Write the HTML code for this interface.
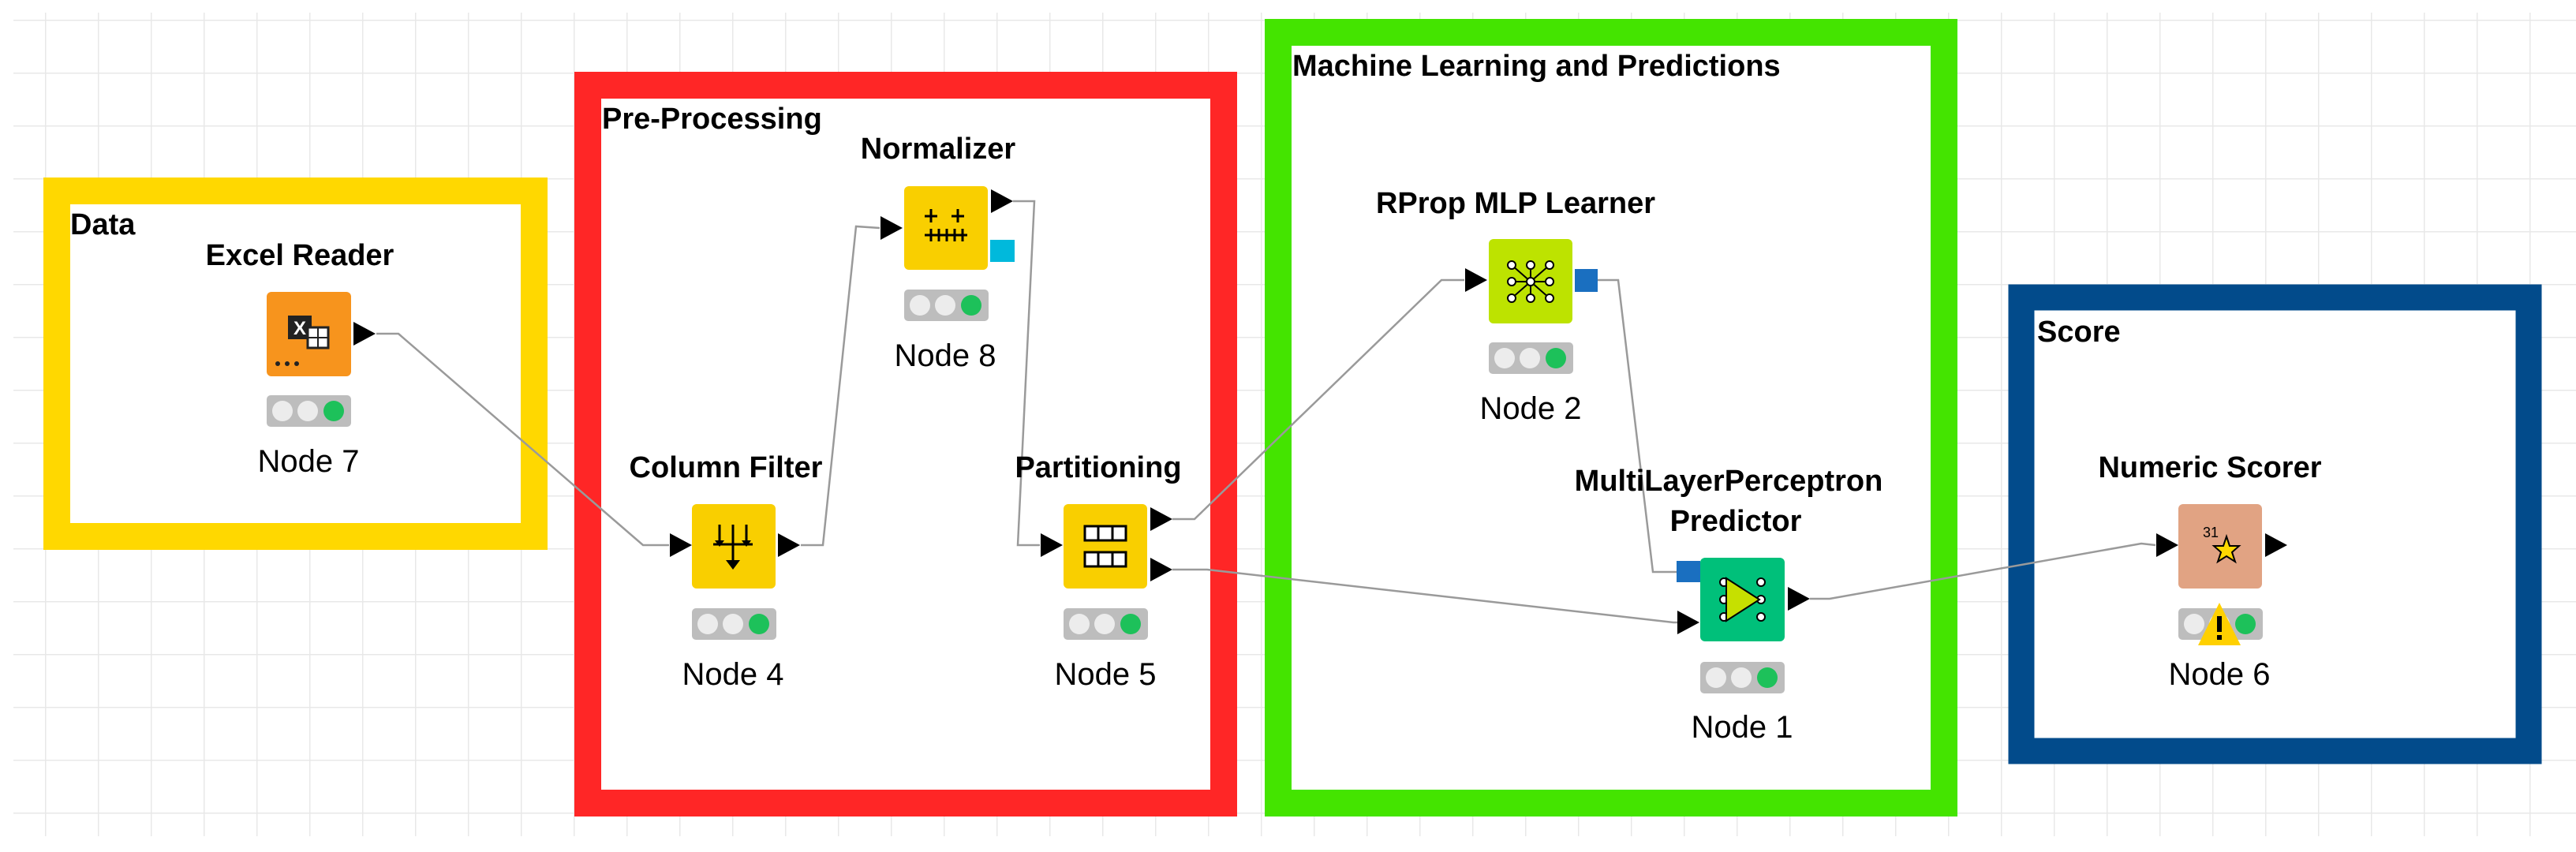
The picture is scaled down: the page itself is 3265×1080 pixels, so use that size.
<!DOCTYPE html>
<html><head><meta charset="utf-8"><style>
html,body{margin:0;padding:0;background:#fff;}
svg{display:block;}
text{font-family:"Liberation Sans",Arial,sans-serif;}
.t{font-weight:bold;font-size:38px;fill:#000;}
.n{font-size:40px;fill:#000;}
.c{fill:none;stroke:#9a9a9a;stroke-width:2.5;}
</style></head><body>
<svg width="3265" height="1080" viewBox="0 0 3265 1080" xmlns="http://www.w3.org/2000/svg">
<defs>
<pattern id="g" x="57" y="25" width="67" height="67" patternUnits="userSpaceOnUse">
<path d="M0 0V67M0 0H67" stroke="#e8e8e8" stroke-width="3" fill="none"/>
</pattern>
<g id="tl">
<rect x="0" y="0" width="107" height="40" rx="5" fill="#bdbdbd"/>
<circle cx="20" cy="20" r="13" fill="#ececec"/>
<circle cx="52" cy="20" r="13" fill="#ececec"/>
<circle cx="85" cy="20" r="13" fill="#1dc15a"/>
</g>
<path id="tri" d="M0 -15 L28 0 L0 15 Z" fill="#000"/>
</defs>
<rect x="17" y="16" width="3248" height="1044" fill="url(#g)"/>

<!-- groups -->
<rect x="72" y="242" width="605" height="438" fill="#fff" stroke="#ffd800" stroke-width="34"/>
<rect x="745" y="108" width="806" height="910" fill="#fff" stroke="#ff2626" stroke-width="34"/>
<rect x="1620" y="41" width="844" height="977" fill="#fff" stroke="#44e400" stroke-width="34"/>
<rect x="2562" y="377" width="643" height="575" fill="#fff" stroke="#024b8b" stroke-width="33"/>

<text class="t" x="89" y="297">Data</text>
<text class="t" x="763" y="163">Pre-Processing</text>
<text class="t" x="1638" y="96">Machine Learning and Predictions</text>
<text class="t" x="2582" y="433">Score</text>

<!-- connections -->
<polyline class="c" points="477,423 505,423 815,691 848,691"/>
<polyline class="c" points="1015,691 1043,691 1085,287 1115,289"/>
<polyline class="c" points="1284,255 1311,255 1290,691 1318,691"/>
<polyline class="c" points="1486,658 1514,658 1827,355 1856,355"/>
<polyline class="c" points="1486,722 1530,722 2121,789 2128,789"/>
<polyline class="c" points="2025,355 2051,355 2095,725 2125,725"/>
<polyline class="c" points="2294,759 2319,759 2714,689 2732,691"/>

<!-- Excel Reader -->
<text class="t" x="380" y="336" text-anchor="middle">Excel Reader</text>
<rect x="338" y="370" width="107" height="107" rx="6" fill="#f7941d"/>
<rect x="365" y="400" width="30" height="30" fill="#222"/>
<text x="380" y="424" text-anchor="middle" fill="#fff" font-size="24" font-weight="bold">X</text>
<rect x="390" y="415" width="26" height="26" fill="#fff" stroke="#222" stroke-width="3"/>
<path d="M390 428H416M403 415V441" stroke="#222" stroke-width="2"/>
<circle cx="352" cy="461" r="3" fill="#222"/><circle cx="364" cy="461" r="3" fill="#222"/><circle cx="376" cy="461" r="3" fill="#222"/>
<use href="#tri" x="448" y="423"/>
<use href="#tl" x="338" y="501"/>
<text class="n" x="391" y="598" text-anchor="middle">Node 7</text>

<!-- Column Filter -->
<text class="t" x="920" y="605" text-anchor="middle">Column Filter</text>
<rect x="877" y="639" width="106" height="107" rx="6" fill="#f9cf00"/>
<path d="M912 665V690M946 665V690M929 665V715M904 690H954" stroke="#000" stroke-width="3"/>
<path d="M906 685L912 693L918 685ZM940 685L946 693L952 685ZM920 710L929 722L938 710Z" fill="#000"/>
<use href="#tri" x="849" y="691"/>
<use href="#tri" x="986" y="691"/>
<use href="#tl" x="877" y="771"/>
<text class="n" x="929" y="868" text-anchor="middle">Node 4</text>

<!-- Normalizer -->
<text class="t" x="1189" y="201" text-anchor="middle">Normalizer</text>
<rect x="1146" y="236" width="106" height="106" rx="6" fill="#f9cf00"/>
<path d="M1180 265V282M1172 274H1188M1214 265V282M1206 274H1222M1172 298H1226M1180 290V306M1190 290V306M1200 290V306M1210 290V306M1220 290V306" stroke="#000" stroke-width="3"/>
<use href="#tri" x="1116" y="289"/>
<use href="#tri" x="1256" y="255"/>
<rect x="1255" y="304" width="31" height="28" fill="#00b9dc"/>
<use href="#tl" x="1146" y="367"/>
<text class="n" x="1198" y="464" text-anchor="middle">Node 8</text>

<!-- Partitioning -->
<text class="t" x="1392" y="605" text-anchor="middle">Partitioning</text>
<rect x="1348" y="639" width="106" height="107" rx="6" fill="#f9cf00"/>
<rect x="1375" y="667" width="52" height="18" fill="#fff" stroke="#000" stroke-width="3"/>
<path d="M1392 667V685M1410 667V685" stroke="#000" stroke-width="3"/>
<rect x="1375" y="700" width="52" height="18" fill="#fff" stroke="#000" stroke-width="3"/>
<path d="M1392 700V718M1410 700V718" stroke="#000" stroke-width="3"/>
<use href="#tri" x="1319" y="691"/>
<use href="#tri" x="1458" y="658"/>
<use href="#tri" x="1458" y="722"/>
<use href="#tl" x="1348" y="771"/>
<text class="n" x="1401" y="868" text-anchor="middle">Node 5</text>

<!-- RProp MLP Learner -->
<text class="t" x="1921" y="270" text-anchor="middle">RProp MLP Learner</text>
<rect x="1887" y="303" width="106" height="107" rx="6" fill="#bde300"/>
<g fill="#fff" stroke="#000" stroke-width="2">
<path d="M1916 336L1964 378M1964 336L1916 378M1916 357H1964M1940 336V378" fill="none"/>
<circle cx="1916" cy="336" r="5"/><circle cx="1940" cy="336" r="5"/><circle cx="1964" cy="336" r="5"/>
<circle cx="1916" cy="357" r="5"/><circle cx="1940" cy="357" r="5"/><circle cx="1964" cy="357" r="5"/>
<circle cx="1916" cy="378" r="5"/><circle cx="1940" cy="378" r="5"/><circle cx="1964" cy="378" r="5"/>
</g>
<use href="#tri" x="1857" y="355"/>
<rect x="1996" y="341" width="29" height="29" fill="#1a6fc0"/>
<use href="#tl" x="1887" y="434"/>
<text class="n" x="1940" y="531" text-anchor="middle">Node 2</text>

<!-- MLP Predictor -->
<text class="t" x="2191" y="622" text-anchor="middle">MultiLayerPerceptron</text>
<text class="t" x="2200" y="673" text-anchor="middle">Predictor</text>
<rect x="2155" y="707" width="107" height="106" rx="6" fill="#00c07a"/>
<g fill="#fff" stroke="#000" stroke-width="2">
<circle cx="2185" cy="738" r="5"/><circle cx="2232" cy="738" r="5"/>
<circle cx="2185" cy="760" r="5"/><circle cx="2232" cy="760" r="5"/>
<circle cx="2185" cy="782" r="5"/><circle cx="2232" cy="782" r="5"/>
</g>
<path d="M2188 733L2230 760L2188 787Z" fill="#c6e000" stroke="#000" stroke-width="2"/>
<rect x="2125" y="711" width="30" height="27" fill="#1a6fc0"/>
<use href="#tri" x="2126" y="789"/>
<use href="#tri" x="2266" y="759"/>
<use href="#tl" x="2155" y="839"/>
<text class="n" x="2208" y="935" text-anchor="middle">Node 1</text>

<!-- Numeric Scorer -->
<text class="t" x="2801" y="605" text-anchor="middle">Numeric Scorer</text>
<rect x="2761" y="639" width="106" height="107" rx="6" fill="#e1a383"/>
<text x="2792" y="681" font-size="18" fill="#000">31</text>
<path d="M2822 680L2826 692L2838 692L2829 700L2833 712L2822 705L2811 712L2815 700L2806 692L2818 692Z" fill="#ffd800" stroke="#000" stroke-width="2"/>
<use href="#tri" x="2733" y="691"/>
<use href="#tri" x="2871" y="691"/>
<use href="#tl" x="2761" y="771"/>
<path d="M2813 764L2840 818L2786 818Z" fill="#ffd000"/>
<rect x="2810" y="781" width="6" height="20" fill="#000"/>
<rect x="2810" y="805" width="6" height="6" fill="#000"/>
<text class="n" x="2813" y="868" text-anchor="middle">Node 6</text>
</svg>
</body></html>
